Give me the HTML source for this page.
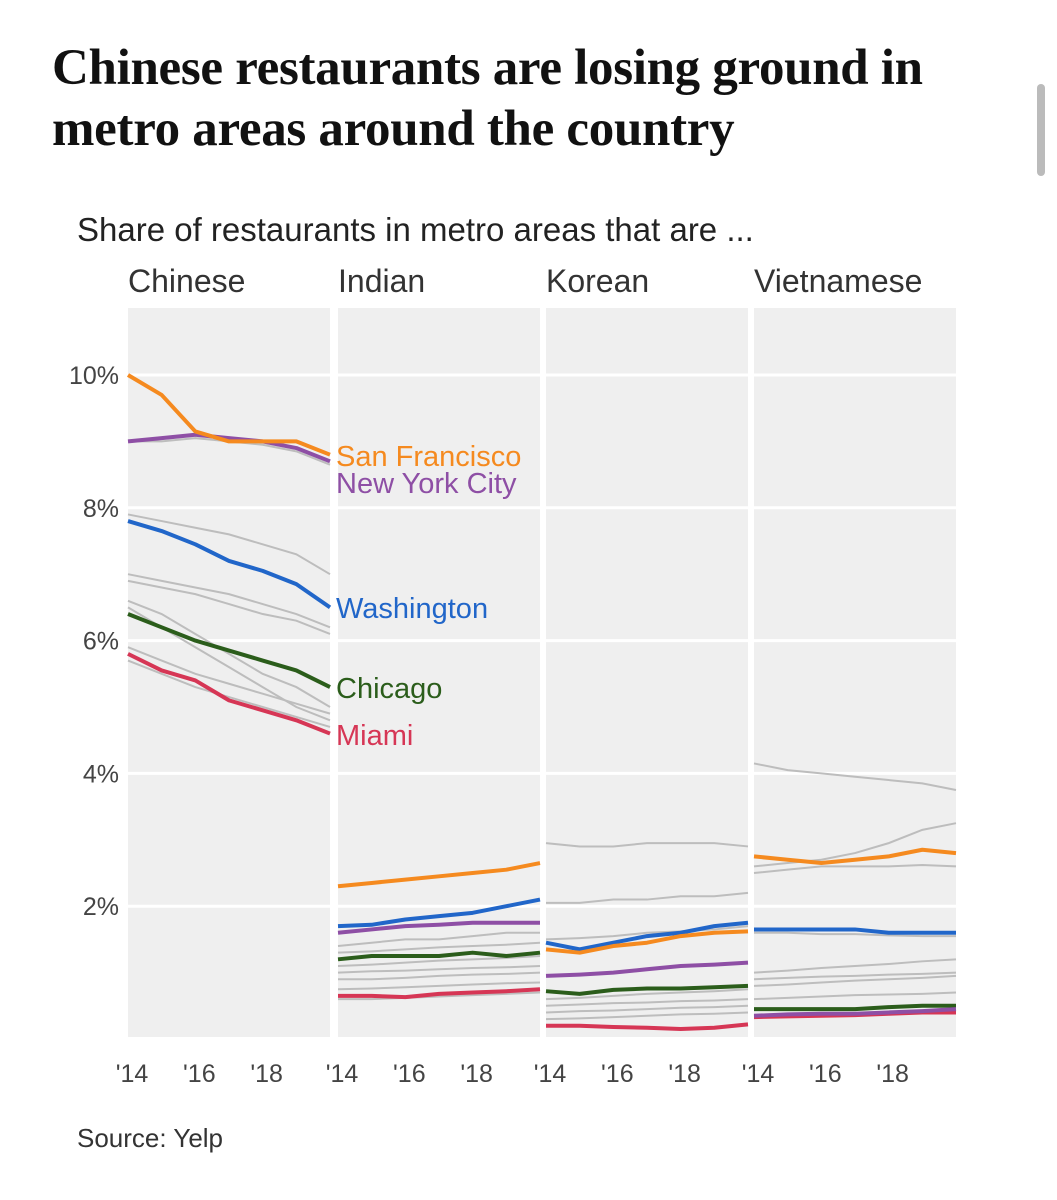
<!DOCTYPE html>
<html><head><meta charset="utf-8">
<style>
html,body{margin:0;padding:0;background:#fff;}
body{width:1057px;height:1200px;position:relative;overflow:hidden;font-family:"Liberation Sans",sans-serif;}
#title{position:absolute;left:52px;top:38px;font-family:"Liberation Serif",serif;font-weight:bold;font-size:51px;line-height:61px;color:#111;margin:0;letter-spacing:-0.3px;white-space:nowrap;}
#sub{position:absolute;left:77px;top:211px;font-size:33px;color:#222;}
#source{position:absolute;left:77px;top:1123px;font-size:26px;color:#333;}
#scroll{position:absolute;left:1037px;top:84px;width:8px;height:92px;border-radius:4px;background:#bbb;}
svg{position:absolute;left:0;top:0;}
</style></head><body>
<h1 id="title">Chinese restaurants are losing ground in<br>metro areas around the country</h1>
<div id="sub">Share of restaurants in metro areas that are ...</div>
<div id="source">Source: Yelp</div>
<div id="scroll"></div>
<svg id="chart" width="1057" height="1200"></svg>
<script>
const panels=["Chinese","Indian","Korean","Vietnamese"];
const years=[2014,2015,2016,2017,2018,2019,2020];
const yTicks=[2,4,6,8,10];
const xTickLabels=["'14","'16","'18"];
const cities=["San Francisco","New York City","Washington","Chicago","Miami"];
const colors=["#f58a1f","#8e4fa5","#2166c9","#2b5d1b","#d63655"];
const chineseVals=[[10.0,9.7,9.15,9.0,9.0,9.0,8.8],[9.0,9.05,9.1,9.05,9.0,8.9,8.7],[7.8,7.65,7.45,7.2,7.05,6.85,6.5],[6.4,6.2,6.0,5.85,5.7,5.55,5.3],[5.8,5.55,5.4,5.1,4.95,4.8,4.6]];
const indianVals=[[2.3,2.35,2.4,2.45,2.5,2.55,2.65],[1.6,1.65,1.7,1.72,1.75,1.75,1.75],[1.7,1.72,1.8,1.85,1.9,2.0,2.1],[1.2,1.25,1.25,1.25,1.3,1.25,1.3],[0.65,0.65,0.63,0.68,0.7,0.72,0.75]];
const koreanVals=[[1.35,1.3,1.4,1.45,1.55,1.6,1.62],[0.95,0.97,1.0,1.05,1.1,1.12,1.15],[1.45,1.35,1.45,1.55,1.6,1.7,1.75],[0.72,0.68,0.74,0.76,0.76,0.78,0.8],[0.2,0.2,0.18,0.17,0.15,0.17,0.22]];
const vietVals=[[2.75,2.7,2.65,2.7,2.75,2.85,2.8],[0.35,0.37,0.38,0.38,0.4,0.42,0.45],[1.65,1.65,1.65,1.65,1.6,1.6,1.6],[0.45,0.45,0.45,0.45,0.48,0.5,0.5],[0.33,0.34,0.35,0.36,0.38,0.4,0.4]];
const chineseGrey=[[9.0,9.0,9.05,9.0,8.95,8.85,8.65],[7.9,7.8,7.7,7.6,7.45,7.3,7.0],[7.0,6.9,6.8,6.7,6.55,6.4,6.2],[6.9,6.8,6.7,6.55,6.4,6.3,6.1],[6.6,6.4,6.1,5.8,5.5,5.3,5.0],[6.5,6.2,5.9,5.6,5.3,5.0,4.8],[5.9,5.7,5.5,5.35,5.2,5.05,4.9],[5.7,5.5,5.3,5.15,5.0,4.85,4.7]];
const indianGrey=[[1.4,1.45,1.5,1.5,1.55,1.6,1.6],[1.3,1.32,1.35,1.38,1.4,1.42,1.45],[1.1,1.12,1.15,1.18,1.2,1.22,1.25],[1.0,1.02,1.03,1.05,1.07,1.08,1.1],[0.9,0.9,0.92,0.95,0.97,0.98,1.0],[0.75,0.76,0.78,0.8,0.82,0.84,0.85],[0.6,0.6,0.62,0.64,0.66,0.68,0.7]];
const koreanGrey=[[2.95,2.9,2.9,2.95,2.95,2.95,2.9],[2.05,2.05,2.1,2.1,2.15,2.15,2.2],[1.5,1.52,1.55,1.6,1.62,1.65,1.7],[0.6,0.62,0.65,0.68,0.7,0.72,0.75],[0.5,0.52,0.54,0.55,0.57,0.58,0.6],[0.4,0.42,0.43,0.45,0.47,0.48,0.5],[0.3,0.31,0.33,0.35,0.37,0.38,0.4]];
const vietGrey=[[4.15,4.05,4.0,3.95,3.9,3.85,3.75],[2.6,2.65,2.7,2.8,2.95,3.15,3.25],[2.5,2.55,2.6,2.6,2.6,2.62,2.6],[1.6,1.6,1.58,1.58,1.56,1.55,1.55],[1.0,1.03,1.07,1.1,1.13,1.17,1.2],[0.9,0.92,0.94,0.95,0.97,0.98,1.0],[0.8,0.82,0.85,0.88,0.9,0.92,0.95],[0.6,0.62,0.64,0.66,0.67,0.68,0.7]];
const panelVals=[chineseVals,indianVals,koreanVals,vietVals];
const panelGrey=[chineseGrey,indianGrey,koreanGrey,vietGrey];

const NS="http://www.w3.org/2000/svg";
const svg=document.getElementById('chart');
const panelX0=[128,338,546,754], panelW=202, panelTop=308, panelBottom=1037;
function y(v){return 1039-v*66.4;}
function x(p,yr){return panelX0[p]+(yr-2014)/6*panelW;}
function mk(tag,attrs,parent){const e=document.createElementNS(NS,tag);for(const k in attrs)e.setAttribute(k,attrs[k]);(parent||svg).appendChild(e);return e;}

panels.forEach((name,p)=>{
  const bg=mk('rect',{x:panelX0[p],y:panelTop,width:panelW,height:panelBottom-panelTop,fill:'#efefef'});
  
  
  yTicks.forEach(t=>{
    const g=mk('line',{x1:panelX0[p],x2:panelX0[p]+panelW,y1:y(t),y2:y(t),stroke:'#fff','stroke-width':3});
    
    
  });
  const tt=mk('text',{x:panelX0[p],y:292,'font-size':32,fill:'#333','font-family':'Liberation Sans, sans-serif'});
  tt.textContent=name;
  
  
  xTickLabels.forEach((lab,i)=>{
    const t=mk('text',{x:x(p,2014+i*2)+4,y:1082,'font-size':25,fill:'#444','text-anchor':'middle','font-family':'Liberation Sans, sans-serif'});
    t.textContent=lab;
    
    
  });
  panelGrey[p].forEach(s=>{
    const l=mk('polyline',{points:s.map((v,i)=>x(p,years[i])+','+y(v)).join(' '),fill:'none',stroke:'#bdbdbd','stroke-width':2});
    
    
  });
  for(let c=cities.length-1;c>=0;c--){
    const s=panelVals[p][c];
    const l=mk('polyline',{points:s.map((v,i)=>x(p,years[i])+','+y(v)).join(' '),fill:'none',stroke:colors[c],'stroke-width':4,'stroke-linejoin':'round'});
    
    
  }
});
yTicks.forEach(t=>{
  const e=mk('text',{x:119,y:y(t)+9,'font-size':25,fill:'#444','text-anchor':'end','font-family':'Liberation Sans, sans-serif'});
  e.textContent=t+'%';
  
  
});
const labelYs=[466,493,618,698,745];
cities.forEach((c,i)=>{
  const e=mk('text',{x:336,y:labelYs[i],'font-size':29,fill:colors[i],'font-family':'Liberation Sans, sans-serif'});
  e.textContent=c;
  
  
});
</script>
</body></html>
